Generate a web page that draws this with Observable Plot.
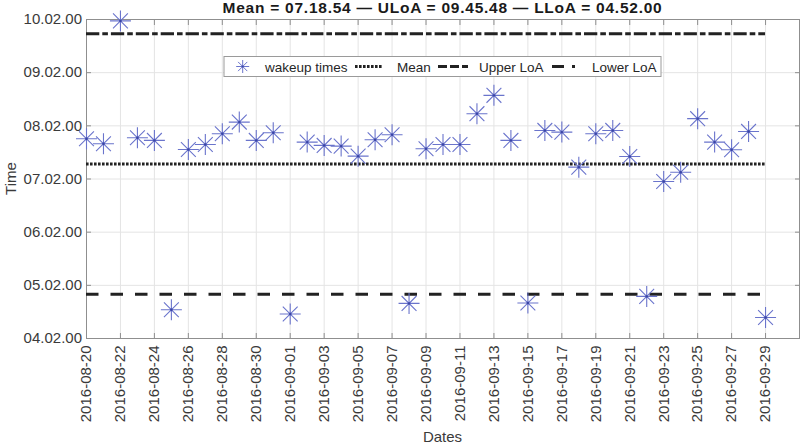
<!DOCTYPE html>
<html>
<head>
<meta charset="utf-8">
<script src="https://cdn.jsdelivr.net/npm/d3@7"></script>
<script src="https://cdn.jsdelivr.net/npm/@observablehq/plot@0.6"></script>
<style>
  html, body { margin: 0; padding: 0; background: white; }
  #wrap { position: relative; width: 800px; height: 447px; overflow: hidden; }
  #title { position: absolute; left: 0; top: -1px; width: 885px; text-align: center; line-height: 16px;
           font: bold 15.5px "Liberation Sans", Arial, sans-serif; letter-spacing: 0.75px; color: #1a1a1a; z-index: 2; white-space: nowrap; }
  svg { overflow: visible; }
</style>
</head>
<body>
<div id="wrap">
  <div id="title">Mean = 07.18.54 — ULoA = 09.45.48 — LLoA = 04.52.00</div>
  <div id="chart"></div>
</div>
<script>
// ---- data ----
const dates = [
  "2016-08-20","2016-08-21","2016-08-22","2016-08-23","2016-08-24","2016-08-25","2016-08-26",
  "2016-08-27","2016-08-28","2016-08-29","2016-08-30","2016-08-31","2016-09-01","2016-09-02",
  "2016-09-03","2016-09-04","2016-09-05","2016-09-06","2016-09-07","2016-09-08","2016-09-09",
  "2016-09-10","2016-09-11","2016-09-12","2016-09-13","2016-09-14","2016-09-15","2016-09-16",
  "2016-09-17","2016-09-18","2016-09-19","2016-09-20","2016-09-21","2016-09-22","2016-09-23",
  "2016-09-24","2016-09-25","2016-09-26","2016-09-27","2016-09-28","2016-09-29"
];
const wakeupTimes = [
  "07:47:28","07:41:49","10:00:25","07:48:36","07:45:32","04:34:26","07:35:20",
  "07:40:59","07:53:06","08:06:14","07:45:32","07:54:14","04:29:35","07:43:37",
  "07:39:54","07:39:07","07:27:47","07:46:19","07:51:58","04:41:35","07:36:11",
  "07:40:59","07:40:59","08:15:43","08:36:25","07:45:32","04:42:04","07:56:49",
  "07:54:54","07:15:22","07:53:06","07:56:49","07:27:25","04:49:30","06:59:10",
  "07:09:40","08:10:05","07:43:37","07:34:59","07:55:41","04:25:44"
];
const meanTime = "07:18:54";
const upperLoA = "09:45:48";
const lowerLoA = "04:52:00";
const yTickTimes = ["04:02:00","05:02:00","06:02:00","07:02:00","08:02:00","09:02:00","10:02:00"];
const yTickLabels = ["04.02.00","05.02.00","06.02.00","07.02.00","08.02.00","09.02.00","10.02.00"];
const xTickDates = [
  "2016-08-20","2016-08-22","2016-08-24","2016-08-26","2016-08-28","2016-08-30","2016-09-01",
  "2016-09-03","2016-09-05","2016-09-07","2016-09-09","2016-09-11","2016-09-13","2016-09-15",
  "2016-09-17","2016-09-19","2016-09-21","2016-09-23","2016-09-25","2016-09-27","2016-09-29"
];
const xDomain = ["2016-08-20", "2016-10-01"];
const legendLabels = ["wakeup times", "Mean", "Upper LoA", "Lower LoA"];

// ---- helpers ----
const toH = s => { const [h, m, sec] = s.split(":").map(Number); return h + m / 60 + sec / 3600; };
const toD = s => new Date(s + "T00:00:00Z");
const data = dates.map((d, i) => ({date: toD(d), h: toH(wakeupTimes[i])}));
const yTicks = yTickTimes.map(toH);
const xTicks = xTickDates.map(toD);
const lineStart = toD(dates[0]), lineEnd = toD(dates[dates.length - 1]);
const lines = v => [{y: toH(v), x1: lineStart, x2: lineEnd}];

const asterisk = {
  draw(ctx, size) {
    const r = Math.sqrt(size / Math.PI), d = r / Math.SQRT2;
    ctx.moveTo(-r, 0); ctx.lineTo(r, 0);
    ctx.moveTo(0, -r); ctx.lineTo(0, r);
    ctx.moveTo(-d, -d); ctx.lineTo(d, d);
    ctx.moveTo(-d, d); ctx.lineTo(d, -d);
  }
};

const markerColor = "#6a74cc";
const axisGray = "#8f8f8f";
const textGray = "#3a3a3a";
const lineColor = "#222222";

const plot = Plot.plot({
  width: 800, height: 447,
  marginLeft: 86, marginRight: 1, marginTop: 19, marginBottom: 109,
  style: {fontFamily: "'Liberation Sans', Arial, sans-serif", fontSize: "15px", background: "white", overflow: "visible"},
  x: {type: "utc", domain: xDomain.map(toD)},
  y: {domain: [yTicks[0], yTicks[yTicks.length - 1]]},
  marks: [
    Plot.gridX(xTicks, {stroke: "#e4e4e4", strokeOpacity: 1}),
    Plot.gridY(yTicks, {stroke: "#e4e4e4", strokeOpacity: 1}),
    Plot.frame({stroke: axisGray}),
    Plot.axisX(xTicks, {anchor: "bottom", tickSize: -5, tickPadding: 12, tickRotate: -90,
      tickFormat: d3.utcFormat("%Y-%m-%d"), label: null, stroke: axisGray, fill: textGray}),
    Plot.axisX(xTicks, {anchor: "top", tickSize: -5, tickFormat: () => "", label: null, stroke: axisGray}),
    Plot.axisY(yTicks, {anchor: "left", tickSize: -5, tickPadding: 9.5,
      tickFormat: (d, i) => yTickLabels[i], label: null, stroke: axisGray, fill: textGray}),
    Plot.axisY(yTicks, {anchor: "right", tickSize: -5, tickFormat: () => "", label: null, stroke: axisGray}),
    Plot.ruleY(lines(upperLoA), {y: "y", x1: "x1", x2: "x2", stroke: lineColor, strokeWidth: 3, strokeDasharray: "13.3,3,5.6,3"}),
    Plot.ruleY(lines(meanTime), {y: "y", x1: "x1", x2: "x2", stroke: lineColor, strokeWidth: 3, strokeDasharray: "2.6,1.4"}),
    Plot.ruleY(lines(lowerLoA), {y: "y", x1: "x1", x2: "x2", stroke: lineColor, strokeWidth: 3, strokeDasharray: "12.5,12"}),
    Plot.dot(data, {x: "date", y: "h", symbol: asterisk, r: 10.5, stroke: markerColor, strokeWidth: 1.1, fill: "none"}),
    Plot.dot(data, {x: "date", y: "h", r: 1.2, fill: "#3a45a6", stroke: null})
  ]
});
document.getElementById("chart").appendChild(plot);

const svg = d3.select(plot);
// axis titles
svg.append("text").attr("x", 442.5).attr("y", 442).attr("text-anchor", "middle")
  .attr("fill", textGray).style("font-size", "15px").text("Dates");
svg.append("text").attr("transform", "translate(16,178.5) rotate(-90)").attr("text-anchor", "middle")
  .attr("fill", textGray).style("font-size", "15px").text("Time");

// legend
const lg = svg.append("g");
lg.append("rect").attr("x", 224).attr("y", 56.5).attr("width", 437).attr("height", 20)
  .attr("fill", "white").attr("stroke", "#9a9a9a");
const ly = 66.5;
lg.append("path").attr("transform", `translate(242.7,${ly})`)
  .attr("d", d3.symbol(asterisk, Math.PI * 6.5 * 6.5)()).attr("stroke", markerColor).attr("fill", "none");
lg.append("circle").attr("cx", 242.7).attr("cy", ly).attr("r", 1).attr("fill", "#3a45a6");
const samples = [
  {x1: 355, x2: 383, dash: "2.6,1.4"},
  {x1: 438, x2: 468, dash: "9,3"},
  {x1: 552, x2: 582, dash: "12,8,3,8"}
];
samples.forEach(s => lg.append("line").attr("x1", s.x1).attr("x2", s.x2).attr("y1", ly).attr("y2", ly)
  .attr("stroke", lineColor).attr("stroke-width", 3).attr("stroke-dasharray", s.dash));
const labelX = [265, 397, 479, 592];
legendLabels.forEach((t, i) => lg.append("text").attr("x", labelX[i]).attr("y", ly + 5)
  .attr("text-anchor", "start").style("font-size", "13.5px").attr("fill", "#262626").text(t));
</script>
</body>
</html>
